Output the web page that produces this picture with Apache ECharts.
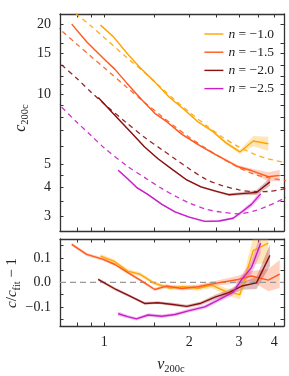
<!DOCTYPE html>
<html><head><meta charset="utf-8">
<script src="https://cdn.jsdelivr.net/npm/echarts@6/dist/echarts.min.js"></script>
<style>html,body{margin:0;padding:0;background:#fff}#c{width:289px;height:376px}</style>
</head><body><div id="c"></div><script>
// ---- data ----
const names = ['n = −1.0', 'n = −1.5', 'n = −2.0', 'n = −2.5'];
const colors = ['#FFA500', '#FF5A1E', '#8B0F0F', '#C81EC8'];

const fitNu = [0.6, 0.7, 0.8, 0.9, 1.0, 1.2, 1.4, 1.6, 1.8, 2.0, 2.3, 2.6, 3.0, 3.4, 3.8, 4.4];
const fitA = [29.8, 25.5, 22.0, 19.6, 17.5, 14.4, 12.3, 10.6, 9.35, 8.4, 7.35, 6.6, 5.95, 5.55, 5.3, 5.1];
const fitB = [22.0, 18.9, 16.4, 14.5, 13.0, 10.74, 9.17, 8.05, 7.2, 6.55, 5.85, 5.35, 4.85, 4.55, 4.4, 4.27];
const fitC = [16.0, 13.5, 11.7, 10.2, 9.1, 7.55, 6.5, 5.8, 5.25, 4.8, 4.32, 4.08, 3.9, 3.83, 3.84, 3.95];
const fitD = [10.5, 8.9, 7.6, 6.65, 5.9, 4.95, 4.38, 3.95, 3.65, 3.43, 3.22, 3.13, 3.08, 3.17, 3.33, 3.62];

const nuA = [0.97, 1.08, 1.21, 1.34, 1.50, 1.70, 1.90, 2.15, 2.40, 2.70, 3.02, 3.37, 3.81];
const cA = [19.8, 17.6, 14.9, 13.0, 11.4, 9.72, 8.7, 7.62, 7.0, 6.2, 5.67, 6.32, 6.15];
const resA = [0.107, 0.087, 0.046, 0.033, -0.003, -0.023, -0.018, -0.024, -0.011, -0.038, -0.05, 0.13, 0.16];
const errA = [0.008, 0.008, 0.008, 0.008, 0.008, 0.008, 0.009, 0.01, 0.012, 0.015, 0.02, 0.05, 0.07];

const nuB = [0.767, 0.866, 0.992, 1.091, 1.20, 1.35, 1.51, 1.66, 1.88, 2.15, 2.47, 2.98, 3.32, 3.81, 4.18];
const cB = [20.0, 16.8, 14.3, 12.8, 11.2, 9.55, 8.3, 7.66, 6.76, 6.09, 5.54, 4.9, 4.72, 4.44, 4.5];
const resB = [0.155, 0.114, 0.094, 0.073, 0.043, 0.007, -0.029, -0.015, -0.025, -0.018, -0.004, 0.012, 0.026, 0.009, 0.034];
const errB = [0.006, 0.006, 0.006, 0.006, 0.006, 0.006, 0.006, 0.007, 0.008, 0.009, 0.01, 0.015, 0.02, 0.045, 0.055];

const nuC = [0.952, 1.10, 1.233, 1.39, 1.55, 1.75, 1.96, 2.2, 2.48, 2.76, 3.07, 3.46, 3.86];
const cC = [9.7, 8.05, 6.95, 5.95, 5.3, 4.75, 4.3, 4.02, 3.85, 3.72, 3.76, 3.8, 4.22];
const resC = [0.012, -0.029, -0.056, -0.086, -0.083, -0.09, -0.098, -0.085, -0.059, -0.042, -0.015, -0.002, 0.11];
const errC = [0.006, 0.006, 0.006, 0.006, 0.006, 0.007, 0.007, 0.008, 0.01, 0.012, 0.015, 0.025, 0.04];

const nuD = [1.12, 1.21, 1.30, 1.43, 1.60, 1.78, 2.0, 2.27, 2.55, 2.86, 3.08, 3.32, 3.58];
const cD = [4.73, 4.35, 4.0, 3.72, 3.38, 3.14, 2.98, 2.86, 2.87, 2.95, 3.15, 3.38, 3.75];
const resD = [-0.128, -0.14, -0.149, -0.133, -0.138, -0.131, -0.115, -0.10, -0.07, -0.04, 0.015, 0.06, 0.16];
const errD = [0.01, 0.008, 0.008, 0.008, 0.008, 0.008, 0.008, 0.009, 0.01, 0.013, 0.018, 0.025, 0.035];

const xTicks = [0.8, 0.9, 1, 1.5, 2, 2.5, 3, 3.5, 4];
const xLabels = [1, 2, 3, 4];
const yTopTicks = [3, 3.5, 4, 4.5, 5, 6, 7, 8, 9, 10, 11, 12, 13.3, 15, 16.5, 20];
const yTopLabels = [3, 4, 5, 10, 15, 20];
const yBotTicks = [-0.15, -0.1, -0.05, 0, 0.05, 0.1, 0.15];
const yBotLabels = [-0.1, 0, 0.1];

// ---- chart ----
const FONT = 'Liberation Serif';
const TXT = '#222';
const FRAME = '#333';
const X_MIN = 0.697, X_MAX = 4.33;

const sets = [
  {nu: nuA, c: cA, res: resA, err: errA, fit: fitA},
  {nu: nuB, c: cB, res: resB, err: errB, fit: fitB},
  {nu: nuC, c: cC, res: resC, err: errC, fit: fitC},
  {nu: nuD, c: cD, res: resD, err: errD, fit: fitD}
];

function xAx(gi, pos, labels) {
  return {type: 'log', gridIndex: gi, position: pos, min: X_MIN, max: X_MAX, logBase: 10,
    axisLine: {show: true, onZero: false, lineStyle: {color: FRAME, width: 1.3}},
    axisTick: {show: true, inside: true, length: 3.5, customValues: xTicks, lineStyle: {color: FRAME, width: 1}},
    axisLabel: labels ? {show: true, customValues: xLabels, margin: 9, fontFamily: FONT, fontSize: 14, color: TXT,
      formatter: v => String(Math.round(v))} : {show: false},
    splitLine: {show: false}, minorTick: {show: false}};
}
function yAx(gi, pos, type, min, max, ticks, labels, fmt) {
  return {type: type, gridIndex: gi, position: pos, min: min, max: max,
    axisLine: {show: true, onZero: false, lineStyle: {color: FRAME, width: 1.3}},
    axisTick: {show: true, inside: true, length: 3.5, customValues: ticks, lineStyle: {color: FRAME, width: 1}},
    axisLabel: labels ? {show: true, customValues: labels, margin: 9, fontFamily: FONT, fontSize: 14, color: TXT,
      formatter: fmt} : {show: false},
    splitLine: {show: false}, minorTick: {show: false}};
}

function band(nu, lo, hi, color, xi, yi) {
  return {type: 'custom', xAxisIndex: xi, yAxisIndex: yi, clip: true, silent: true, z: 1,
    data: nu.map((v, i) => [v, lo[i], hi[i]]),
    encode: {x: 0, y: [1, 2]},
    renderItem: (params, api) => {
      if (params.dataIndex !== 0) return null;
      const pts = [];
      for (let i = 0; i < nu.length; i++) pts.push(api.coord([nu[i], hi[i]]));
      for (let i = nu.length - 1; i >= 0; i--) pts.push(api.coord([nu[i], lo[i]]));
      return {type: 'polygon', shape: {points: pts}, style: {fill: color, opacity: 0.28}};
    }};
}

const series = [];
sets.forEach((s, k) => {
  const col = colors[k];
  series.push({name: names[k], type: 'line', xAxisIndex: 0, yAxisIndex: 0, showSymbol: false, symbol: 'none',
    data: s.nu.map((v, i) => [v, s.c[i]]), lineStyle: {color: col, width: 1.4}, itemStyle: {color: col}, z: 3});
});
sets.forEach((s, k) => {
  const col = colors[k];
  series.push({name: 'fit' + k, type: 'line', xAxisIndex: 0, yAxisIndex: 0, showSymbol: false, symbol: 'none', smooth: 0.3,
    data: fitNu.map((v, i) => [v, s.fit[i]]), lineStyle: {color: col, width: 1.3, type: [5, 4], opacity: 0.9}, z: 2});
  series.push(band(s.nu, s.c.map((v, i) => v * (1 - s.err[i])), s.c.map((v, i) => v * (1 + s.err[i])), col, 0, 0));
  series.push(band(s.nu, s.res.map((v, i) => v - s.err[i] * (1 + v)), s.res.map((v, i) => v + s.err[i] * (1 + v)), col, 2, 2));
  series.push({name: 'res' + k, type: 'line', xAxisIndex: 2, yAxisIndex: 2, showSymbol: false, symbol: 'none',
    data: s.nu.map((v, i) => [v, s.res[i]]), lineStyle: {color: col, width: 1.4}, z: 3});
});
// zero reference line in residual panel
series.push({name: 'zero', type: 'line', xAxisIndex: 2, yAxisIndex: 2, showSymbol: false, symbol: 'none',
  data: [[X_MIN, 0], [X_MAX, 0]], lineStyle: {color: '#999', width: 1.2, type: [6, 4]}, z: 2});

const fmtTop = v => String(Math.round(v));
const fmtBot = v => (Math.abs(v) < 1e-9 ? '0.0' : (v < 0 ? '−' : '') + Math.abs(v).toFixed(1));

const option = {
  animation: false,
  backgroundColor: '#fff',
  grid: [
    {left: 60, right: 5, top: 14, height: 217},
    {left: 60, right: 5, top: 239, height: 87}
  ],
  xAxis: [xAx(0, 'bottom', false), xAx(0, 'top', false), xAx(1, 'bottom', true), xAx(1, 'top', false)],
  yAxis: [
    yAx(0, 'left', 'log', 2.6, 22.1, yTopTicks, yTopLabels, fmtTop),
    yAx(0, 'right', 'log', 2.6, 22.1, yTopTicks, null, null),
    yAx(1, 'left', 'value', -0.178, 0.177, yBotTicks, yBotLabels, fmtBot),
    yAx(1, 'right', 'value', -0.178, 0.177, yBotTicks, null, null)
  ],
  legend: {
    data: names, orient: 'vertical', right: 10, top: 22, itemWidth: 19, itemHeight: 10, itemGap: 4.2,
    icon: 'path://M0,4.3 L19,4.3 L19,5.7 L0,5.7 Z',
    textStyle: {fontFamily: FONT, fontSize: 13.5, color: TXT, rich: {i: {fontFamily: FONT, fontStyle: 'italic', fontSize: 13.5, color: TXT}}},
    formatter: n => '{i|n}' + n.slice(1)
  },
  graphic: [
    {type: 'text', x: 21, y: 118, rotation: Math.PI / 2, style: {
      text: '{c|c}{s|200c}', align: 'center', verticalAlign: 'middle', fill: TXT,
      rich: {c: {fontFamily: FONT, fontStyle: 'italic', fontSize: 16, lineHeight: 20, verticalAlign: 'middle', fill: TXT},
             s: {fontFamily: FONT, fontSize: 10.5, lineHeight: 10, verticalAlign: 'bottom', fill: TXT}}}},
    {type: 'text', x: 12, y: 283, rotation: Math.PI / 2, style: {
      text: '{c|c}{m|/}{c|c}{s|fit}{m| − 1}', align: 'center', verticalAlign: 'middle', fill: TXT,
      rich: {c: {fontFamily: FONT, fontStyle: 'italic', fontSize: 15, lineHeight: 20, verticalAlign: 'middle', fill: TXT},
             m: {fontFamily: FONT, fontSize: 15, lineHeight: 20, verticalAlign: 'middle', fill: TXT},
             s: {fontFamily: FONT, fontSize: 10, lineHeight: 10, verticalAlign: 'bottom', fill: TXT}}}},
    {type: 'text', x: 171, y: 365, style: {
      text: '{c|ν}{s|200c}', align: 'center', verticalAlign: 'middle', fill: TXT,
      rich: {c: {fontFamily: FONT, fontStyle: 'italic', fontSize: 16, lineHeight: 20, verticalAlign: 'middle', fill: TXT},
             s: {fontFamily: FONT, fontSize: 10.5, lineHeight: 10, verticalAlign: 'bottom', fill: TXT}}}}
  ],
  series: series
};
const chart = echarts.init(document.getElementById('c'), null, {renderer: 'canvas'});
chart.setOption(option);
</script></body></html>
